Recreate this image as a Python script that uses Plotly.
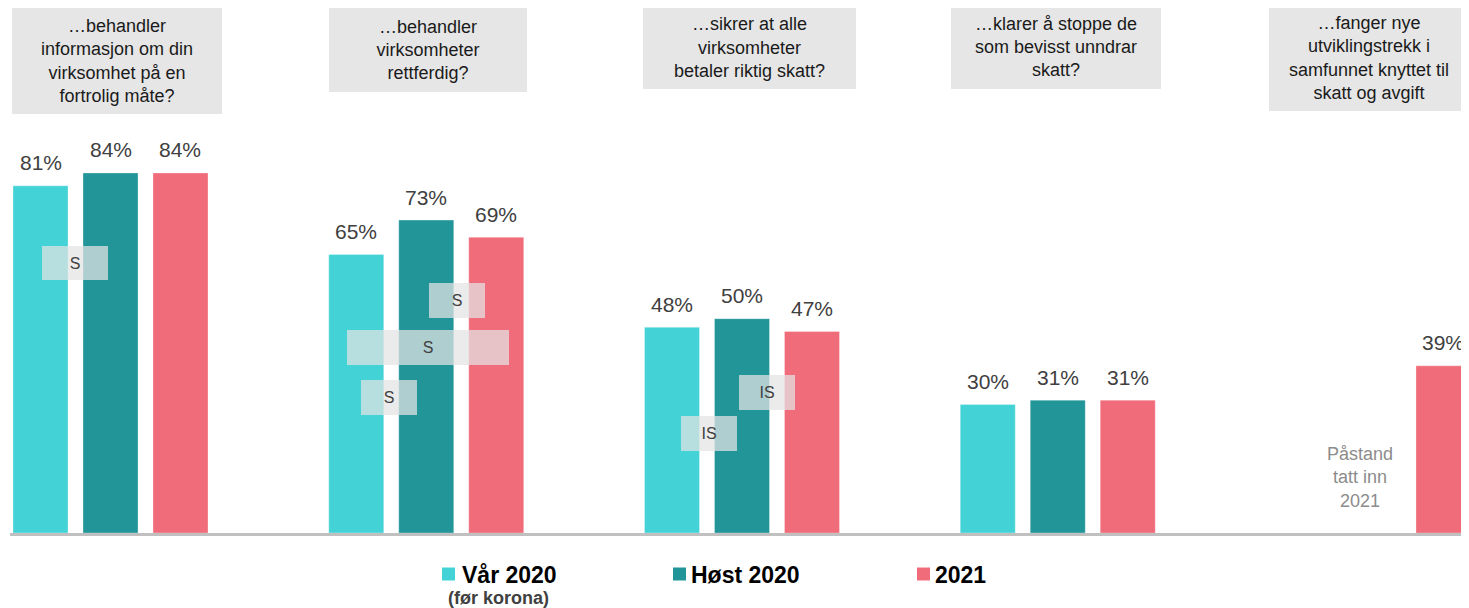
import plotly.graph_objects as go

# ---------------- data ----------------
categories = ["Fortrolig", "Rettferdig", "Riktig skatt", "Stoppe unndragelse", "Utviklingstrekk"]
question_texts = [
    "…behandler<br>informasjon om din<br>virksomhet på en<br>fortrolig måte?",
    "…behandler<br>virksomheter<br>rettferdig?",
    "…sikrer at alle<br>virksomheter<br>betaler riktig skatt?",
    "…klarer å stoppe de<br>som bevisst unndrar<br>skatt?",
    "…fanger nye<br>utviklingstrekk i<br>samfunnet knyttet til<br>skatt og avgift",
]
series_names = ["Vår 2020", "Høst 2020", "2021"]
vaar_2020 = [81, 65, 48, 30, None]
hoest_2020 = [84, 73, 50, 31, None]
aar_2021 = [84, 69, 47, 31, 39]
series_values = [vaar_2020, hoest_2020, aar_2021]
sig_labels = ["S", "S", "S", "S", "IS", "IS"]
note_text = "Påstand<br>tatt inn<br>2021"
legend_sub = "(før korona)"

# ---------------- style / layout ----------------
colors = ["#43D3D7", "#219598", "#F06C7A"]
OFF = 8  # page body margin offset
W, H = 1469 - OFF, 608 - OFF
L, R, T, B = 10 - OFF, 0, 0, 75
PLOT_W = W - L - R
PLOT_H = H - T - B
BARGAP = 0.335
SLOT = (1 - BARGAP) / 3
XRANGE = [-0.3183, 4.3025]
YMAX = PLOT_H / 4.286


def px_x(px):
    return (px - OFF - L) / PLOT_W


def px_y(py):
    return (H - B - (py - OFF)) / PLOT_H


fig = go.Figure()
for name, vals, col in zip(series_names, series_values, colors):
    fig.add_trace(go.Bar(
        x=categories, y=vals, name=name, marker_color=col,
        marker_line_width=1, marker_line_color="rgba(255,255,255,0.3)",
        showlegend=False, hoverinfo="skip",
    ))

annotations = []
# value labels
for k, vals in enumerate(series_values):
    for g, v in enumerate(vals):
        if v is None:
            continue
        annotations.append(dict(
            x=g + (k - 1) * SLOT, y=v, xref="x", yref="y",
            text=f"{v}%", showarrow=False, yanchor="middle", xanchor="center",
            yshift=23, font=dict(family="Liberation Sans, Arial", size=21, color="#404040"),
        ))

# question boxes (pixel boxes: left, right, top, bottom)
q_boxes = [(12, 222, 8, 114), (329, 527, 8, 92), (643, 856, 6, 89),
           (951, 1161, 5, 89), (1269, 1469, 5, 111)]
for txt, (x0, x1, y0, y1) in zip(question_texts, q_boxes):
    annotations.append(dict(
        x=px_x((x0 + x1) / 2), y=px_y((y0 + y1) / 2), xref="paper", yref="paper",
        text=txt, showarrow=False, xanchor="center", yanchor="middle",
        width=x1 - x0, height=y1 - y0, bgcolor="#E6E6E6", borderpad=0, borderwidth=0,
        align="center", valign="middle",
        font=dict(family="Liberation Sans, Arial", size=18, color="#1A1A1A"),
    ))

# significance boxes
s_boxes = [(42, 108, 246, 280), (429, 485, 283, 318), (347, 509, 330, 365),
           (361, 417, 380, 415), (739, 795, 375, 410), (681, 737, 416, 451)]
for txt, (x0, x1, y0, y1) in zip(sig_labels, s_boxes):
    annotations.append(dict(
        x=px_x((x0 + x1) / 2), y=px_y((y0 + y1) / 2), xref="paper", yref="paper",
        text=txt, showarrow=False, xanchor="center", yanchor="middle",
        width=x1 - x0, height=y1 - y0, bgcolor="rgba(228,228,228,0.73)",
        borderpad=0, borderwidth=0, align="center", valign="middle",
        font=dict(family="Liberation Sans, Arial", size=16, color="#404040"),
    ))

# note for last group
annotations.append(dict(
    x=px_x(1360), y=px_y(477), xref="paper", yref="paper", text=note_text,
    showarrow=False, xanchor="center", yanchor="middle", align="center",
    font=dict(family="Liberation Sans, Arial", size=18, color="#8C8C8C"),
))

# legend (custom)
shapes = []
legend_sq = [442, 673, 917]
legend_txt_x = [461, 690, 934]
for name, col, sx, tx in zip(series_names, colors, legend_sq, legend_txt_x):
    shapes.append(dict(type="rect", xref="paper", yref="paper",
                       x0=px_x(sx), x1=px_x(sx + 13), y0=px_y(580.5), y1=px_y(567.5),
                       fillcolor=col, line_width=0))
    annotations.append(dict(
        x=px_x(tx - 1), y=px_y(575), xref="paper", yref="paper", text=f"<b>{name}</b>",
        showarrow=False, xanchor="left", yanchor="middle",
        font=dict(family="Liberation Sans, Arial", size=23, color="#000000"),
    ))
annotations.append(dict(
    x=px_x(498), y=px_y(598), xref="paper", yref="paper", text=f"<b>{legend_sub}</b>",
    showarrow=False, xanchor="center", yanchor="middle",
    font=dict(family="Liberation Sans, Arial", size=18, color="#404040"),
))

fig.update_layout(
    width=W, height=H, margin=dict(l=L, r=R, t=T, b=B, pad=0),
    barmode="group", bargap=BARGAP, bargroupgap=0.214,
    paper_bgcolor="white", plot_bgcolor="white",
    xaxis=dict(type="category", range=XRANGE, showticklabels=False, ticks="",
               showgrid=False, zeroline=False, showline=True,
               linecolor="#C0C0C0", linewidth=2.5, fixedrange=True),
    yaxis=dict(range=[0, YMAX], visible=False, showgrid=False, zeroline=False,
               fixedrange=True),
    annotations=annotations, shapes=shapes,
    font=dict(family="Liberation Sans, Arial"),
)

fig.write_html("out.html", config={"displayModeBar": False})
